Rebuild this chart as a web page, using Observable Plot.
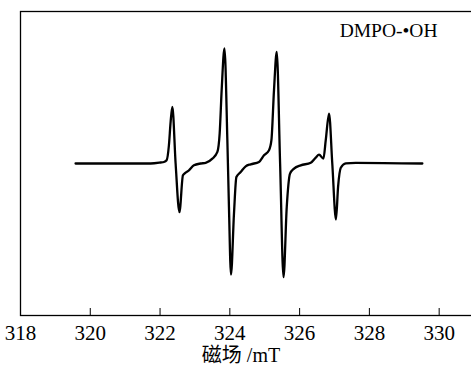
<!DOCTYPE html>
<html><head><meta charset="utf-8">
<script src="https://cdn.jsdelivr.net/npm/d3@7"></script>
<script src="https://cdn.jsdelivr.net/npm/@observablehq/plot@0.6"></script>
<style>html,body{margin:0;padding:0;overflow:hidden;background:#fff} #chart svg{max-width:none !important;}</style>
</head><body><div id="chart"></div>
<script>
// Magnetic field (mT)
const fields = [
  319.578, 321.729, 322.016, 322.111, 322.188, 322.254, 322.303, 322.352,
  322.446, 322.555, 322.656, 322.733, 322.828, 322.971, 323.164, 323.307,
  323.499, 323.643, 323.709, 323.766, 323.846, 323.929, 323.975, 324.033,
  324.119, 324.188, 324.311, 324.454, 324.598, 324.836, 324.979, 325.123,
  325.192, 325.266, 325.344, 325.441, 325.539, 325.631, 325.725, 325.840,
  326.032, 326.319, 326.462, 326.557, 326.683, 326.749, 326.844, 326.936,
  327.042, 327.102, 327.180, 327.323, 327.610, 329.518
];
// EPR signal intensity (a.u.)
const intensity = [
  0, 0, 1, 1.5, 3.2, 18.2, 41.5, 56.5,
  0, -48.5, -11.8, -9.1, -6.8, -1.8, 0, 0.7,
  4.9, 11.5, 30.2, 73.2, 114.7, 23.2, -43.5, -110.8,
  -49.8, -13.5, -8.5, -2.8, -0.8, 1.5, 8.2, 13.2,
  23.2, 73.2, 111.2, 0, -113.3, -43.5, -10.1, -5.1,
  -1.8, 0.7, 5.9, 8.9, 4.9, 23.2, 49.7, 0.2,
  -55.8, -23.5, -4.3, 0.2, 0.7, 0
];
const tickValues = [318, 320, 322, 324, 326, 328, 330];
const xLabel = "磁场 /mT";
const seriesLabel = "DMPO-•OH";

const data = fields.map((f, i) => ({field: f, value: intensity[i]}));

const chart = Plot.plot({
  width: 492, height: 372,
  marginLeft: 20, marginRight: 1, marginTop: 11, marginBottom: 57,
  style: {fontFamily: "'Liberation Serif', 'Noto Sans CJK SC', serif", background: "white", color: "black", maxWidth: "none"},
  x: {domain: [318, 331.5]},
  y: {domain: [-151.5, 151.5], axis: null},
  marks: [
    Plot.frame({stroke: "black", strokeWidth: 1.3}),
    Plot.axisX({ticks: tickValues, tickSize: -7, tickPadding: 17, fontSize: 21, label: null, stroke: "black", fill: "black"}),
    Plot.line(data, {x: "field", y: "value", stroke: "black", strokeWidth: 2.3, curve: "monotone-x"}),
    Plot.text([seriesLabel], {text: d => d, frameAnchor: "top-right", dx: -54, dy: 12, lineAnchor: "top", textAnchor: "end", fontSize: 19.5, fill: "black"}),
    Plot.text([xLabel], {text: d => d, frameAnchor: "bottom", dx: -15, dy: 32, lineAnchor: "top", fontSize: 20, fill: "black"})
  ]
});
document.getElementById("chart").appendChild(chart);
</script>
</body></html>
